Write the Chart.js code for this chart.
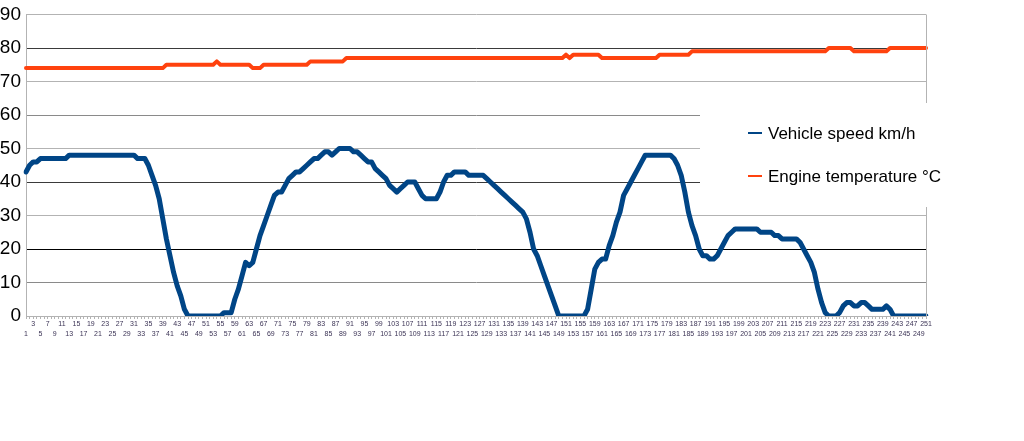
<!DOCTYPE html>
<html>
<head>
<meta charset="utf-8">
<script src="https://cdn.jsdelivr.net/npm/chart.js"></script>
<style>
  html, body { margin: 0; padding: 0; background: #fff; }
  canvas { display: block; }
</style>
</head>
<body>
<canvas id="myChart" width="1024" height="441"></canvas>
<script>
// samples 1..251
const sampleNumbers = Array.from({length: 251}, (_, k) => String(k + 1));

const speedValues = [
    43,45,46,46,47,47,47,47,47,47,
    47,47,48,48,48,48,48,48,48,48,
    48,48,48,48,48,48,48,48,48,48,
    48,47,47,47,45,42,39,35,29,23,
    18,13,9,6,2,0,0,0,0,0,
    0,0,0,0,0,1,1,1,5,8,
    12,16,15,16,20,24,27,30,33,36,
    37,37,39,41,42,43,43,44,45,46,
    47,47,48,49,49,48,49,50,50,50,
    50,49,49,48,47,46,46,44,43,42,
    41,39,38,37,38,39,40,40,40,38,
    36,35,35,35,35,37,40,42,42,43,
    43,43,43,42,42,42,42,42,41,40,
    39,38,37,36,35,34,33,32,31,29,
    25,20,18,15,12,9,6,3,0,0,
    0,0,0,0,0,0,2,8,14,16,
    17,17,21,24,28,31,36,38,40,42,
    44,46,48,48,48,48,48,48,48,48,
    47,45,42,37,31,27,24,20,18,18,
    17,17,18,20,22,24,25,26,26,26,
    26,26,26,26,25,25,25,25,24,24,
    23,23,23,23,23,22,20,18,16,13,
    8,4,1,0,0,0,1,3,4,4,
    3,3,4,4,3,2,2,2,2,3,
    2,0,0,0,0,0,0,0,0,0,
    0
];

const tempValues = [
    74,74,74,74,74,74,74,74,74,74,
    74,74,74,74,74,74,74,74,74,74,
    74,74,74,74,74,74,74,74,74,74,
    74,74,74,74,74,74,74,74,74,75,
    75,75,75,75,75,75,75,75,75,75,
    75,75,75,76,75,75,75,75,75,75,
    75,75,75,74,74,74,75,75,75,75,
    75,75,75,75,75,75,75,75,75,76,
    76,76,76,76,76,76,76,76,76,77,
    77,77,77,77,77,77,77,77,77,77,
    77,77,77,77,77,77,77,77,77,77,
    77,77,77,77,77,77,77,77,77,77,
    77,77,77,77,77,77,77,77,77,77,
    77,77,77,77,77,77,77,77,77,77,
    77,77,77,77,77,77,77,77,77,77,
    78,77,78,78,78,78,78,78,78,78,
    77,77,77,77,77,77,77,77,77,77,
    77,77,77,77,77,77,78,78,78,78,
    78,78,78,78,78,79,79,79,79,79,
    79,79,79,79,79,79,79,79,79,79,
    79,79,79,79,79,79,79,79,79,79,
    79,79,79,79,79,79,79,79,79,79,
    79,79,79,80,80,80,80,80,80,80,
    79,79,79,79,79,79,79,79,79,79,
    80,80,80,80,80,80,80,80,80,80,
    80
];

const seriesNames = ['Vehicle speed km/h', 'Engine temperature °C'];
const seriesColors = ['#004586', '#ff420e'];

const FONT = '"Liberation Sans", Arial, sans-serif';

// gridline shades as they appear in the picture
function gridColor(v) {
    if (v % 10 !== 0) return '#e8e8e8';
    if (v === 20) return '#000000';
    if (v === 40 || v === 80) return '#3a3a3a';
    if (v === 10 || v === 60) return '#8a8a8a';
    return '#b3b3b3';
}

// legend sits in a white box over the plot
const boxLegend = {
    id: 'boxLegend',
    afterDraw(chart) {
        const ctx = chart.ctx;
        const area = chart.chartArea;
        ctx.save();
        // right frame line
        ctx.strokeStyle = '#b3b3b3';
        ctx.lineWidth = 1;
        ctx.beginPath();
        ctx.moveTo(Math.round(area.right) + 0.5, area.top);
        ctx.lineTo(Math.round(area.right) + 0.5, area.bottom);
        ctx.stroke();

        ctx.fillStyle = '#ffffff';
        ctx.fillRect(700, 103, 262, 104);

        ctx.font = '17px ' + FONT;
        ctx.textBaseline = 'middle';
        const rows = [133, 176];
        for (let i = 0; i < seriesNames.length; i++) {
            ctx.strokeStyle = seriesColors[i];
            ctx.lineWidth = 2;
            ctx.beginPath();
            ctx.moveTo(748, rows[i]);
            ctx.lineTo(762, rows[i]);
            ctx.stroke();
            ctx.fillStyle = '#000000';
            ctx.fillText(seriesNames[i], 768, rows[i] + 1);
        }
        ctx.restore();
    }
};

const ctx = document.getElementById('myChart').getContext('2d');
const myChart = new Chart(ctx, {
    type: 'line',
    data: {
        labels: sampleNumbers,
        datasets: [{
            label: seriesNames[0],
            data: speedValues,
            borderColor: seriesColors[0],
            backgroundColor: seriesColors[0],
            borderWidth: 5,
            pointRadius: 0,
            tension: 0,
            borderJoinStyle: 'round',
            borderCapStyle: 'round'
        }, {
            label: seriesNames[1],
            data: tempValues,
            borderColor: seriesColors[1],
            backgroundColor: seriesColors[1],
            borderWidth: 4,
            pointRadius: 0,
            tension: 0,
            borderJoinStyle: 'round',
            borderCapStyle: 'round'
        }]
    },
    options: {
        responsive: false,
        animation: false,
        devicePixelRatio: 1,
        layout: {
            padding: {top: 11, right: 98, bottom: 0, left: 0}
        },
        plugins: {
            legend: {display: false},
            tooltip: {enabled: false}
        },
        scales: {
            x: {
                afterFit: (scale) => { scale.height = 125; },
                grid: {
                    drawOnChartArea: false,
                    tickLength: 3,
                    color: '#b3b3b3'
                },
                border: {color: '#b3b3b3'},
                ticks: {
                    autoSkip: false,
                    maxRotation: 0,
                    minRotation: 0,
                    padding: 0,
                    color: '#3b3355',
                    font: {family: FONT, size: 7, lineHeight: 1.4},
                    callback: function (value, index) {
                        const n = index + 1;
                        if (n % 4 === 3) return [String(n)];
                        if (n % 4 === 1) return ['', String(n)];
                        return '';
                    }
                }
            },
            y: {
                min: 0,
                max: 90,
                afterFit: (scale) => { scale.width = 26; },
                grid: {
                    drawTicks: false,
                    color: (c) => gridColor(c.tick.value)
                },
                border: {color: '#b3b3b3'},
                ticks: {
                    stepSize: 5,
                    padding: 5,
                    color: '#000000',
                    font: {family: FONT, size: 19, lineHeight: 1},
                    callback: (v) => (v % 10 === 0 ? String(v) : '')
                }
            }
        }
    },
    plugins: [boxLegend]
});
</script>
</body>
</html>
